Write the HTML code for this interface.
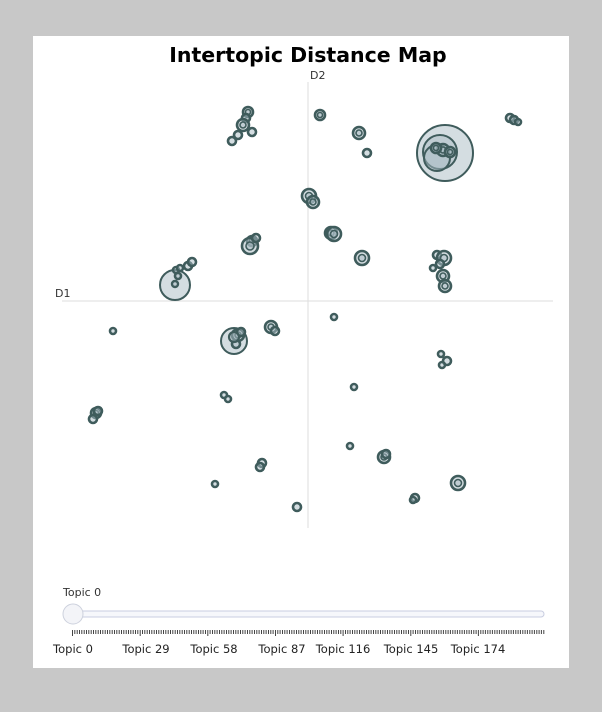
<!DOCTYPE html>
<html><head><meta charset="utf-8"><style>
body{margin:0;background:#c8c8c8;width:602px;height:712px;overflow:hidden;font-family:"DejaVu Sans","Liberation Sans",sans-serif}
#card{position:absolute;left:33px;top:36px;width:536px;height:632px;background:#fff}
svg{position:absolute;left:0;top:0}
</style></head><body>
<div id="card"></div>
<svg width="602" height="712" id="s" xmlns="http://www.w3.org/2000/svg" font-family="DejaVu Sans, sans-serif">
<text x="308" y="62" text-anchor="middle" font-size="20.5" font-weight="bold" fill="#000">Intertopic Distance Map</text>
<line x1="308" y1="82" x2="308" y2="528" stroke="#ddd" stroke-width="1"/>
<line x1="62" y1="301" x2="553" y2="301" stroke="#ddd" stroke-width="1"/>
<text x="310" y="79" font-size="11" fill="#333">D2</text>
<text x="55" y="297" font-size="11" fill="#333">D1</text>
<g id="c" fill="rgba(170,188,196,0.5)" stroke="#3f5c5c"></g>
<text x="63" y="596" font-size="11" fill="#333">Topic 0</text>
<rect x="72" y="611" width="472" height="6" rx="3" fill="#f6f7fb" stroke="#c8cde0"/>
<circle cx="73" cy="614" r="10" fill="#f3f4f8" stroke="#cdd1dd"/>
<g id="t" stroke="#444" stroke-width="1"></g>
<g font-size="11.5" fill="#222" text-anchor="middle">
<text x="73" y="653">Topic 0</text><text x="146" y="653">Topic 29</text><text x="214" y="653">Topic 58</text><text x="282" y="653">Topic 87</text><text x="343" y="653">Topic 116</text><text x="411" y="653">Topic 145</text><text x="478" y="653">Topic 174</text>
</g>
</svg>
<script>
var C=[[445,153,28],[440,152,17],[437,158,13],[443,150,6],[450,152,5],[436,148,5],[248,112,5],[246,118,4],[243,125,6],[252,132,4],[238,135,4],[232,141,4],[320,115,5],[359,133,6],[367,153,4],[510,118,4],[514,120,4],[518,122,3],[309,196,7],[313,202,6],[252,241,5],[250,246,8],[256,238,4],[331,233,6],[334,234,7],[362,258,7],[437,255,4],[444,258,7],[433,268,3],[440,264,4],[443,276,6],[445,286,6],[175,285,15],[176,270,3],[180,268,3],[178,276,3],[188,266,4],[192,262,4],[234,341,13],[238,335,6],[236,344,4],[241,332,4],[271,327,6],[275,331,4],[334,317,3],[113,331,3],[441,354,3],[447,361,4],[442,365,3],[354,387,3],[96,413,5],[98,411,4],[93,419,4],[224,395,3],[228,399,3],[350,446,3],[384,457,6],[386,454,4],[262,463,4],[260,467,4],[458,483,7],[215,484,3],[415,498,4],[413,500,3],[297,507,4]];
var g=document.getElementById('c'),h='';C.forEach(function(a){var r=a[2];
if(r<=8){h+='<circle cx="'+a[0]+'" cy="'+a[1]+'" r="'+r+'" stroke-width="2.6"/>';if(r>=5)h+='<circle cx="'+a[0]+'" cy="'+a[1]+'" r="'+(r*0.5)+'" stroke-width="1.6"/>';}
else h+='<circle cx="'+a[0]+'" cy="'+a[1]+'" r="'+r+'" stroke-width="2"/>';});
h+='<circle cx="175" cy="284" r="3" stroke-width="2.4"/><circle cx="234" cy="337" r="5" stroke-width="2.2"/>';
g.innerHTML=h;
var t=document.getElementById('t'),s='';for(var i=0;i<=202;i++){var x=72.5+i*2.333;var big=i%29==0;s+='<line x1="'+x.toFixed(1)+'" x2="'+x.toFixed(1)+'" y1="630" y2="'+(big?636:634)+'"/>';}t.innerHTML=s;
</script>
</body></html>
